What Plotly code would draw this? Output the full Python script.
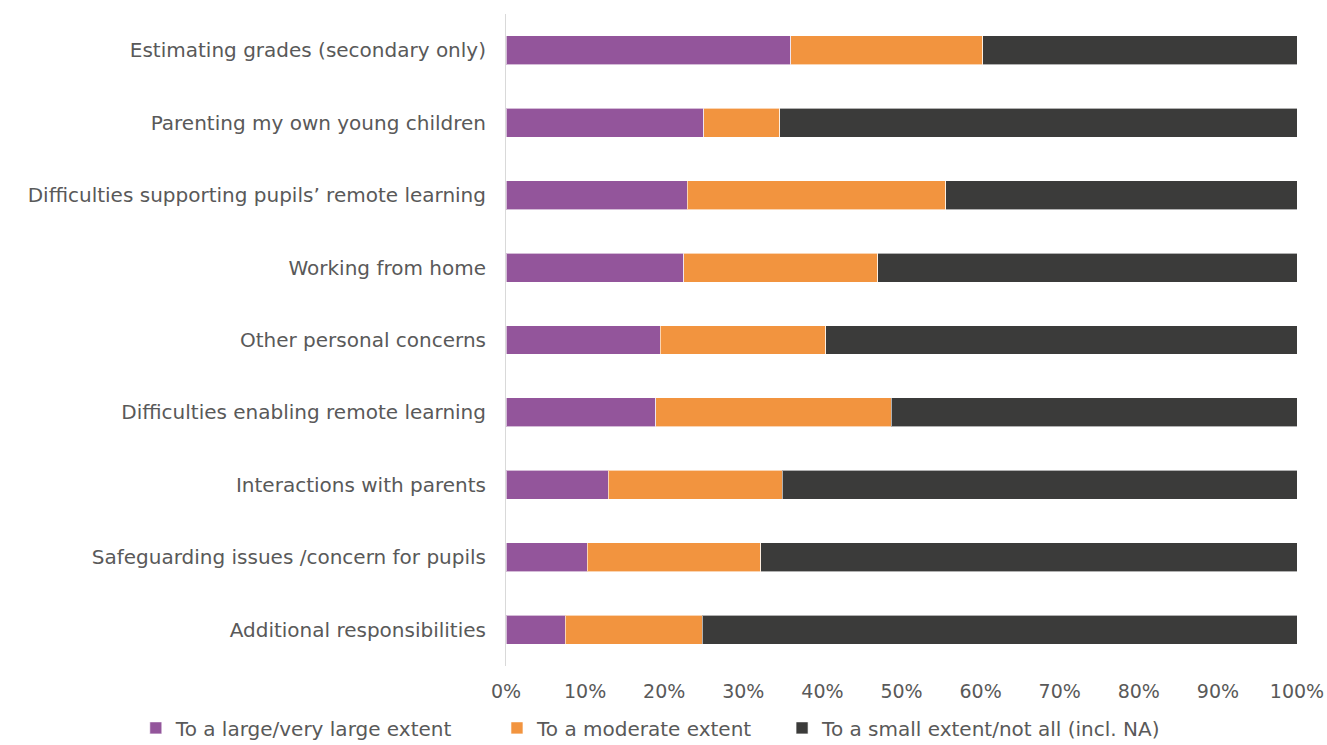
import plotly.graph_objects as go

categories = [
    "Estimating grades (secondary only)",
    "Parenting my own young children",
    "Difficulties supporting pupils’ remote learning",
    "Working from home",
    "Other personal concerns",
    "Difficulties enabling remote learning",
    "Interactions with parents",
    "Safeguarding issues /concern for pupils",
    "Additional responsibilities",
]
large_extent = [36.0, 25.0, 22.9, 22.5, 19.5, 18.9, 12.9, 10.3, 7.5]
moderate_extent = [24.3, 9.6, 32.7, 24.5, 20.9, 29.8, 22.0, 21.9, 17.3]
small_extent = [round(100 - a - b, 1) for a, b in zip(large_extent, moderate_extent)]

series_names = [
    "To a large/very large extent",
    "To a moderate extent",
    "To a small extent/not all (incl. NA)",
]
series_values = [large_extent, moderate_extent, small_extent]
series_colors = ["#93559B", "#F2943F", "#3B3B3A"]

font_family = "DejaVu Sans, Open Sans, sans-serif"
text_color = "#595959"
label_size = 20
tick_size = 19

# each series gets its own legend box so the entries can be spaced freely
legend_ids = ["legend", "legend2", "legend3"]
legend_x = [-0.468, -0.0114, 0.349]

fig = go.Figure()
for name, values, color, lid in zip(series_names, series_values, series_colors, legend_ids):
    fig.add_trace(go.Bar(
        y=categories,
        x=values,
        name=name,
        orientation="h",
        legend=lid,
        showlegend=True,
        marker=dict(color=color, line=dict(color="rgba(255,255,255,0.6)", width=1)),
    ))

legend_common = dict(
    orientation="h",
    xanchor="left",
    y=-0.065,
    yanchor="top",
    bgcolor="rgba(0,0,0,0)",
    font=dict(size=label_size, color=text_color),
    itemwidth=30,
)

fig.update_layout(
    showlegend=True,
    barmode="stack",
    bargap=0.6,
    width=1327,
    height=745,
    margin=dict(l=506, r=30, t=14, b=79, autoexpand=False),
    paper_bgcolor="white",
    plot_bgcolor="white",
    font=dict(family=font_family, size=label_size, color=text_color),
    legend=dict(x=legend_x[0], **legend_common),
    legend2=dict(x=legend_x[1], **legend_common),
    legend3=dict(x=legend_x[2], **legend_common),
    xaxis=dict(
        range=[0, 100],
        dtick=10,
        ticksuffix="%",
        showgrid=False,
        zeroline=False,
        showline=False,
        ticks="outside",
        ticklen=8,
        tickcolor="white",
        automargin=False,
        tickfont=dict(size=tick_size, color=text_color),
    ),
    yaxis=dict(
        autorange="reversed",
        showgrid=False,
        zeroline=False,
        showline=True,
        linecolor="#D9D9D9",
        linewidth=1,
        ticks="outside",
        ticklen=15,
        tickcolor="white",
        automargin=False,
        tickfont=dict(size=label_size, color=text_color),
    ),
)

fig.write_html("out.html")
